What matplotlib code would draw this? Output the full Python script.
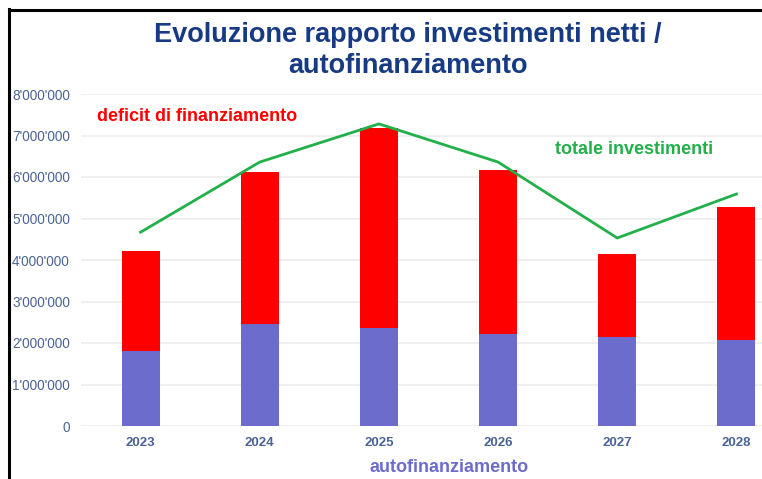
import matplotlib.pyplot as plt
from matplotlib.lines import Line2D
from matplotlib.ticker import FuncFormatter

anni = ['2023', '2024', '2025', '2026', '2027', '2028']
autofinanziamento = [1810000, 2460000, 2360000, 2220000, 2140000, 2070000]
deficit = [2410000, 3660000, 4820000, 3950000, 2000000, 3210000]
totale_investimenti = [4670000, 6360000, 7280000, 6360000, 4530000, 5590000]

col_blu = '#6c6ccd'
col_rosso = '#ff0000'
col_verde = '#22b04a'
col_titolo = '#173a85'
col_tick = '#4a6395'

plt.rcParams['font.family'] = ['Liberation Sans', 'DejaVu Sans']

f = plt.figure(figsize=(7.62, 4.79), dpi=100)
# plot area runs past the right edge, like the cropped screenshot
ax1 = f.add_axes([81/762, 1 - 426/479, 715/762, 332/479])

x = range(len(anni))
ax1.bar(x, autofinanziamento, width=0.32, color=col_blu, zorder=2)
ax1.bar(x, deficit, width=0.32, bottom=autofinanziamento, color=col_rosso, zorder=2)
ax1.plot(x, totale_investimenti, color=col_verde, linewidth=2, zorder=3)

ax1.set_xlim(-0.5, 5.5)
ax1.set_ylim(0, 8000000)
ax1.set_yticks(range(0, 8000001, 1000000))
ax1.yaxis.set_major_formatter(FuncFormatter(lambda v, p: '{:,}'.format(int(v)).replace(',', "'")))
ax1.set_xticks(list(x))
ax1.set_xticklabels(anni, fontweight='bold')
ax1.tick_params(axis='y', length=0, pad=8, labelsize=9.8, labelcolor=col_tick)
ax1.tick_params(axis='x', length=0, pad=8, labelsize=9.5, labelcolor=col_tick)
ax1.grid(axis='y', color='#ececec', linewidth=1.2, zorder=0)
for s in ax1.spines.values():
    s.set_visible(False)

f.text(408/762, 1 - 35/479, 'Evoluzione rapporto investimenti netti /', ha='center', va='center',
       fontsize=19.5, fontweight='bold', color=col_titolo)
f.text(408/762, 1 - 66/479, 'autofinanziamento', ha='center', va='center',
       fontsize=19.5, fontweight='bold', color=col_titolo)
f.text(97/762, 1 - 116/479, 'deficit di finanziamento', ha='left', va='center',
       fontsize=13, fontweight='bold', color=col_rosso)
f.text(555/762, 1 - 149/479, 'totale investimenti', ha='left', va='center',
       fontsize=13, fontweight='bold', color=col_verde)
f.text(449/762, 1 - 467/479, 'autofinanziamento', ha='center', va='center',
       fontsize=13, fontweight='bold', color=col_blu)

# black frame of the screenshot (left and top only)
f.add_artist(Line2D([9/762, 9/762], [0, 1 - 9/479], color='black', linewidth=2.2))
f.add_artist(Line2D([9/762, 1], [1 - 10/479, 1 - 10/479], color='black', linewidth=2.2))

f.savefig('out.png', dpi=100)
